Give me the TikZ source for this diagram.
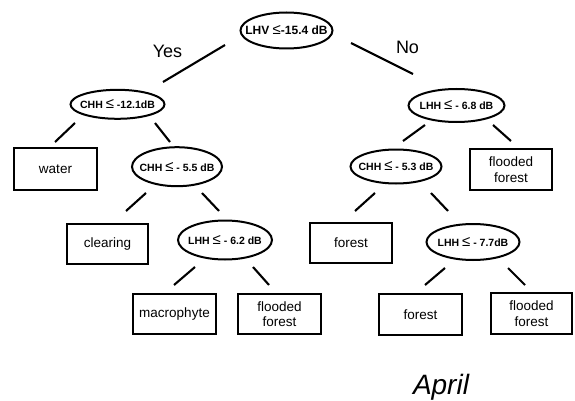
\documentclass[tikz,border=0pt]{standalone}
\usepackage{fontspec}
\setmainfont{Liberation Sans}
\usetikzlibrary{shapes.geometric}
\newcommand{\leqsym}{{\fontsize{15}{15}\selectfont\mdseries ≤}}
\newcommand{\ctext}[1]{\makebox[0pt][c]{#1}}
\tikzset{
  cond/.style={ellipse, draw, line width=2pt, inner sep=0pt, outer sep=0pt,
    font=\fontsize{10.5}{12}\selectfont\bfseries},
  leaf/.style={rectangle, draw, line width=2pt, inner sep=0pt, outer sep=0pt,
    align=center, font=\fontsize{13.5}{15.5}\selectfont},
  edge/.style={line width=2.1pt},
  answer/.style={anchor=base, inner sep=0pt, font=\fontsize{18}{20}\selectfont},
}
\begin{document}
\begin{tikzpicture}[x=1pt, y=-1pt]
\useasboundingbox (0,0) rectangle (575,401);
% decision nodes
\node[cond, minimum width=92pt, minimum height=36pt, font=\fontsize{12}{13}\selectfont\bfseries] (root) at (286.5,30.5) {\ctext{LHV \leqsym-15.4 dB}};
\node[cond, minimum width=94pt, minimum height=29pt] (c1) at (117.5,104.3) {\ctext{CHH \leqsym\ -12.1dB}};
\node[cond, minimum width=90pt, minimum height=39pt] (c2) at (177,166.7) {\ctext{CHH \leqsym\ - 5.5 dB}};
\node[cond, minimum width=94pt, minimum height=39pt] (l62) at (225,240) {\ctext{LHH \leqsym\ - 6.2 dB}};
\node[cond, minimum width=96pt, minimum height=33pt] (c3) at (456.5,105.5) {\ctext{LHH \leqsym\ - 6.8 dB}};
\node[cond, minimum width=91pt, minimum height=34pt] (c4) at (396,166.5) {\ctext{CHH \leqsym\ - 5.3 dB}};
\node[cond, minimum width=93pt, minimum height=36pt] (l77) at (473,242) {\ctext{LHH \leqsym\ - 7.7dB}};
% leaves
\node[leaf, minimum width=83pt, minimum height=42pt] (water) at (55.5,169) {water};
\node[leaf, minimum width=81pt, minimum height=40pt] (clearing) at (107.5,244) {clearing};
\node[leaf, minimum width=83pt, minimum height=40pt] (macro) at (174.5,314) {macrophyte};
\node[leaf, minimum width=83pt, minimum height=40pt] (ff1) at (279.5,314) {flooded\\forest};
\node[leaf, minimum width=82pt, minimum height=41pt] (ff2) at (511,169.5) {flooded\\forest};
\node[leaf, minimum width=82pt, minimum height=40pt] (forest1) at (351,243) {forest};
\node[leaf, minimum width=83pt, minimum height=41pt] (forest2) at (420.5,314.5) {forest};
\node[leaf, minimum width=81pt, minimum height=41pt] (ff3) at (531.5,313.5) {flooded\\forest};
% labels
\node[answer] (yes) at (167.5,58) {Yes};
\node[answer] (no) at (407.5,54) {No};
\node[anchor=base, inner sep=0pt, font=\fontsize{28}{30}\selectfont\itshape] (month) at (441,394) {April};
% connectors
\draw[edge] ([shift={(-61.5,14.5)}]root.center) -- ([shift={(45.5,-22.3)}]c1.center);
\draw[edge] ([shift={(64.5,12.5)}]root.center) -- ([shift={(-43.5,-31.5)}]c3.center);
\draw[edge] ([shift={(-42.5,18.7)}]c1.center) -- ([shift={(-0.5,-27)}]water.center);
\draw[edge] ([shift={(37.5,18.7)}]c1.center) -- ([shift={(-7,-24.7)}]c2.center);
\draw[edge] ([shift={(-31,26.3)}]c2.center) -- ([shift={(18.5,-33)}]clearing.center);
\draw[edge] ([shift={(25,26.3)}]c2.center) -- ([shift={(-6,-29)}]l62.center);
\draw[edge] ([shift={(-30,27)}]l62.center) -- ([shift={(-0.5,-29)}]macro.center);
\draw[edge] ([shift={(28,27)}]l62.center) -- ([shift={(-10.5,-29)}]ff1.center);
\draw[edge] ([shift={(-31.5,19.5)}]c3.center) -- ([shift={(7,-25.5)}]c4.center);
\draw[edge] ([shift={(36.5,19.5)}]c3.center) -- ([shift={(0,-28.5)}]ff2.center);
\draw[edge] ([shift={(-21,26.5)}]c4.center) -- ([shift={(4,-32)}]forest1.center);
\draw[edge] ([shift={(35,26.5)}]c4.center) -- ([shift={(-25,-31)}]l77.center);
\draw[edge] ([shift={(-28,26)}]l77.center) -- ([shift={(4.5,-29.5)}]forest2.center);
\draw[edge] ([shift={(35,26)}]l77.center) -- ([shift={(-6.5,-28.5)}]ff3.center);
\end{tikzpicture}
\end{document}
